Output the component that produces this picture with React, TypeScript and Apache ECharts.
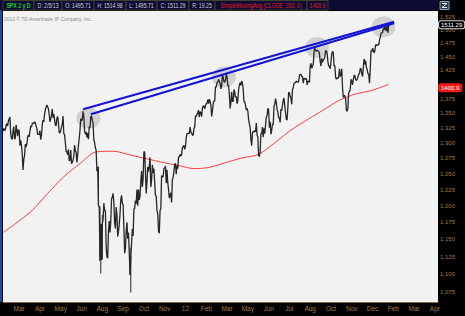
import React, { useEffect, useRef } from "react";
import * as echarts from "echarts";

// ---------- DATA ----------
const START_DATE = "2011-02-07";
const HOLIDAYS = [
  "2011-02-21", "2011-04-22", "2011-05-30", "2011-07-04", "2011-09-05", "2011-11-24", "2011-12-26",
  "2012-01-02", "2012-01-16", "2012-02-20", "2012-04-06", "2012-05-28", "2012-07-04", "2012-09-03",
  "2012-10-29", "2012-10-30", "2012-11-22", "2012-12-25",
  "2013-01-01", "2013-01-21", "2013-02-18", "2013-03-29",
];

// daily closes (trading days)
const close2011 = [
  1319, 1324, 1321, 1321, 1329, 1332, 1328, 1336, 1340, 1343, 1315, 1307, 1306, 1319, 1327,
  1306, 1308, 1330, 1321, 1311, 1322, 1320, 1295, 1304, 1296, 1281, 1256, 1273, 1279, 1298, 1293, 1298, 1309, 1313, 1310, 1319, 1328, 1326,
  1332, 1333, 1332, 1335, 1333, 1328, 1324, 1314, 1314, 1314, 1320, 1305, 1312, 1330, 1338, 1335, 1348, 1356, 1360, 1364,
  1361, 1357, 1348, 1335, 1340, 1346, 1357, 1342, 1348, 1338, 1330, 1328, 1341, 1344, 1333, 1317, 1316, 1320, 1326, 1331, 1345,
  1315, 1313, 1300, 1286, 1285, 1280, 1289, 1271, 1271, 1288, 1266, 1268, 1272, 1278, 1296, 1287, 1284, 1268, 1280, 1296, 1307, 1321,
  1340, 1337, 1339, 1353, 1344, 1319, 1314, 1318, 1309, 1316, 1306, 1327, 1325, 1344, 1345, 1337, 1332, 1305, 1300, 1292,
  1287, 1254, 1261, 1200, 1199, 1119, 1172, 1121, 1173, 1179, 1204, 1192, 1193, 1140, 1124, 1123, 1162, 1177, 1160, 1177, 1211, 1213, 1219,
  1204, 1174, 1166, 1198, 1186, 1154, 1162, 1172, 1188, 1209, 1216, 1204, 1202, 1167, 1130, 1136, 1162, 1175, 1151, 1160, 1131,
  1099, 1124, 1144, 1165, 1155, 1195, 1196, 1208, 1203, 1225, 1200, 1225, 1209, 1215, 1238, 1254, 1229, 1242, 1285, 1285, 1253,
  1219, 1237, 1261, 1253, 1262, 1276, 1229, 1240, 1264, 1251, 1258, 1237, 1216, 1215, 1193, 1188, 1162, 1159, 1193, 1196, 1247,
  1245, 1245, 1258, 1259, 1262, 1235, 1256, 1236, 1225, 1212, 1216, 1220, 1205, 1241, 1244, 1254, 1265, 1266, 1249, 1263, 1258,
];
const close2012 = [
  1277, 1277, 1281, 1278, 1281, 1292, 1293, 1296, 1289, 1294, 1308, 1315, 1315, 1316, 1315, 1326, 1318, 1316, 1313, 1312,
  1324, 1326, 1345, 1344, 1348, 1351, 1355, 1343, 1352, 1351, 1344, 1358, 1362, 1362, 1357, 1363, 1366, 1367, 1373, 1366,
  1374, 1370, 1364, 1344, 1353, 1366, 1371, 1371, 1396, 1395, 1403, 1404, 1409, 1405, 1402, 1392, 1397, 1416, 1413, 1405, 1404, 1408,
  1419, 1413, 1398, 1398, 1382, 1358, 1368, 1387, 1370, 1370, 1391, 1386, 1377, 1379, 1366, 1372, 1390, 1399, 1403, 1398,
  1406, 1402, 1391, 1369, 1370, 1363, 1355, 1358, 1353, 1339, 1331, 1325, 1305, 1295, 1316, 1319, 1318, 1320, 1318, 1333, 1313, 1310,
  1278, 1278, 1285, 1315, 1315, 1326, 1309, 1324, 1315, 1329, 1343, 1345, 1358, 1356, 1325, 1335, 1314, 1320, 1332, 1330, 1362,
  1365, 1375, 1368, 1355, 1352, 1342, 1341, 1334, 1357, 1354, 1363, 1372, 1376, 1362, 1350, 1339, 1338, 1360, 1386, 1385, 1379,
  1376, 1365, 1391, 1394, 1402, 1403, 1403, 1406, 1404, 1404, 1405, 1415, 1418, 1418, 1414, 1414, 1402, 1411, 1410, 1409, 1411, 1399, 1406,
  1405, 1404, 1433, 1438, 1429, 1433, 1436, 1460, 1466, 1462, 1460, 1462, 1461, 1460, 1456, 1441, 1433, 1447, 1440,
  1444, 1446, 1450, 1461, 1461, 1456, 1441, 1433, 1433, 1428, 1441, 1455, 1460, 1458, 1433, 1434, 1413, 1409, 1412, 1411, 1412,
  1428, 1414, 1417, 1428, 1394, 1377, 1380, 1380, 1375, 1355, 1353, 1359, 1386, 1387, 1391, 1409, 1406, 1399, 1409, 1416, 1416,
  1409, 1407, 1409, 1413, 1418, 1419, 1429, 1428, 1419, 1414, 1430, 1446, 1436, 1443, 1430, 1427, 1419, 1418, 1402, 1426,
];
const close2013 = [
  1462, 1459, 1466, 1462, 1457, 1461, 1472, 1472, 1471, 1473, 1472, 1481, 1486, 1493, 1495, 1495, 1503, 1500, 1507, 1502, 1498,
  1513, 1495, 1511.29,
];

// intraday extremes on the big-range days
const wickDates = ["2011-08-04", "2011-08-08", "2011-08-09", "2011-08-10", "2011-08-11", "2011-10-03", "2011-10-04"];
const wickLow = [1199, 1119, 1101, 1120, 1121, 1099, 1075];
const wickHigh = [1261, 1199, 1172, 1172, 1186, 1138, 1125];

// 200-day simple moving average, read at month starts
const smaDates = [
  "2011-02-07", "2011-03-01", "2011-04-01", "2011-05-02", "2011-06-01", "2011-07-01", "2011-08-01", "2011-09-01",
  "2011-10-03", "2011-11-01", "2011-12-01", "2012-01-03", "2012-02-01", "2012-03-01", "2012-04-02", "2012-05-01",
  "2012-06-01", "2012-07-02", "2012-08-01", "2012-09-04", "2012-10-01", "2012-11-01", "2012-12-03", "2013-01-02",
  "2013-02-01", "2013-02-05",
];
const smaValues = [
  1160, 1172, 1193, 1219, 1245, 1267, 1285, 1286,
  1280, 1274, 1268, 1263, 1258, 1260, 1268, 1275,
  1281, 1300, 1321, 1340, 1355, 1372, 1383, 1389,
  1399, 1400.9,
];

// trend lines (two parallel resistance lines)
const upperLineDates = ["2011-07-07", "2013-02-14"];
const upperLineValues = [1356.5, 1516];
const lowerLineDates = ["2011-07-21", "2013-02-14"];
const lowerLineValues = [1348, 1513];

// highlighted peaks
const circleDates = ["2011-07-18", "2012-03-28", "2012-09-19", "2013-01-25"];
const circleValues = [1341, 1413, 1467, 1506];

// price scale ticks (1,400 sits under the SMA badge and is not shown)
const yTicks = [1075, 1100, 1125, 1150, 1175, 1200, 1225, 1250, 1275, 1300, 1325, 1350, 1375, 1425, 1450, 1475, 1500, 1525];
const MONTH_NAMES = ["", "Feb", "Mar", "Apr", "May", "Jun", "Jul", "Aug", "Sep", "Oct", "Nov", "Dec"];

const headerTexts = ["SPX 2 y D", "D: 2/5/13", "O: 1495.71", "H: 1514.98", "L: 1495.71", "C: 1511.29", "R: 19.25", "SimpleMovingAvg (CLOSE, 200, 0)", "1400.9"];
const headerColors = ["#27d027", "#d4d4d4", "#d4d4d4", "#d4d4d4", "#d4d4d4", "#d4d4d4", "#d4d4d4", "#e52222", "#e52222"];
const copyright = "2012 \u00a9 TD Ameritrade IP Company, Inc.";
const lastClose = 1511.29;
const lastSma = 1400.9;

// ---------- LAYOUT ----------
const X_MAX = 565;
const Y_MIN = 1062;
const Y_MAX = 1536.7;
const LABEL_FIRST_BAR = 21; // time labels every 27 bars, as the platform spaces them
const LABEL_STEP_BARS = 27;
const LABEL_LAG_BARS = 5;   // label names the month of the bar a few bars to its left
const AXIS_COLOR = "#a57c42";
const FONT = "Liberation Sans";

function buildCalendar(start: string, count: number): string[] {
  const hol = new Set(HOLIDAYS);
  const out: string[] = [];
  const d = new Date(start + "T00:00:00Z");
  while (out.length < count) {
    const dow = d.getUTCDay();
    const s = d.toISOString().slice(0, 10);
    if (dow !== 0 && dow !== 6 && !hol.has(s)) out.push(s);
    d.setUTCDate(d.getUTCDate() + 1);
  }
  return out;
}

export default function App() {
  const ref = useRef<HTMLDivElement>(null);
  useEffect(() => {
    document.body.style.margin = "0";
    const chart = echarts.init(ref.current!, null, { renderer: "svg" });

    const cal = buildCalendar(START_DATE, X_MAX + 1);
    const idx: Record<string, number> = {};
    cal.forEach((d, i) => (idx[d] = i));
    const closes = [...close2011, ...close2012, ...close2013];
    const L = Math.log;

    const timeTicks: number[] = [];
    for (let t = LABEL_FIRST_BAR; t <= X_MAX - 3; t += LABEL_STEP_BARS) timeTicks.push(t);
    const timeLabel = (t: number) => {
      const d = cal[Math.round(t) - LABEL_LAG_BARS];
      if (!d) return "";
      const mi = parseInt(d.slice(5, 7), 10) - 1;
      return mi === 0 ? d.slice(2, 4) : MONTH_NAMES[mi];
    };

    const headerCells = [[3, 34], [34, 62], [62, 94], [94, 126], [126, 157], [157, 189], [189, 215], [215, 307], [307, 328]];
    const graphics: any[] = [
      { type: "rect", left: 0, top: 0, shape: { width: 438, height: 10 }, style: { fill: "#0b0b36" }, z: 0 },
      { type: "rect", left: 0, top: 10, shape: { width: 2, height: 292 }, style: { fill: "#1c4c9c" }, z: 0 },
      ...headerCells.map((c) => ({
        type: "rect", shape: { x: c[0], y: 0.5, width: c[1] - c[0], height: 9.5 },
        style: { fill: "#0b0b36", stroke: "#40402c", lineWidth: 1 }, z: 1,
      })),
      ...headerCells.map((c, i) => ({
        type: "text", x: (c[0] + c[1]) / 2, y: 5.5, scaleX: 0.8,
        style: { text: headerTexts[i], fill: headerColors[i], font: `${i === 0 ? "bold " : ""}6.5px ${FONT}`, align: "center", verticalAlign: "middle" },
        z: 2,
      })),
      { type: "text", x: 4, y: 19, scaleX: 0.9, style: { text: copyright, fill: "#8c8c8c", font: `5.5px ${FONT}`, verticalAlign: "middle" }, z: 2 },
      { type: "rect", shape: { x: 440, y: 1.5, width: 9, height: 8 }, style: { fill: "#22384a", stroke: "#93a6b8", lineWidth: 1 }, z: 2 },
      { type: "polyline", shape: { points: [[442, 3.5], [447, 3.5], [442, 7.5], [447, 7.5]] }, style: { stroke: "#e8eef4", lineWidth: 1, fill: "none" }, z: 3 },
    ];

    const markLabel = (text: string, bg: string, border: string) => ({
      silent: true,
      symbol: ["none", "none"],
      lineStyle: { width: 0, color: "rgba(0,0,0,0)", type: "solid" },
      label: {
        show: true, position: "end", formatter: text, color: "#ffffff", backgroundColor: bg,
        borderColor: border, borderWidth: 1, borderRadius: 2, padding: [1, 2, 0, 2],
        fontSize: 6, fontFamily: FONT, distance: 1, opacity: 1,
      },
      emphasis: { disabled: true },
    });

    const option: any = {
      animation: false,
      backgroundColor: "#000",
      textStyle: { fontFamily: FONT },
      grid: { left: 3, right: 27, top: 11, bottom: 14, show: true, backgroundColor: "#f2f2f2", borderWidth: 0 },
      graphic: graphics,
      xAxis: {
        type: "value", min: 0, max: X_MAX,
        splitLine: { show: false },
        axisLine: { show: true, lineStyle: { color: "#8c6a38", width: 1 } },
        axisTick: { show: false },
        axisLabel: {
          customValues: timeTicks,
          formatter: (v: number) => timeLabel(v),
          color: AXIS_COLOR, fontSize: 6.5, fontFamily: FONT, align: "center", margin: 3,
        },
      },
      yAxis: {
        type: "value", position: "right", min: L(Y_MIN), max: L(Y_MAX),
        splitLine: { show: false },
        axisLine: { show: false },
        axisTick: { show: false },
        axisLabel: {
          customValues: yTicks.map(L),
          formatter: (v: number) => Math.round(Math.exp(v)).toLocaleString("en-US"),
          color: AXIS_COLOR, fontSize: 6, fontFamily: FONT, margin: 2,
        },
      },
      series: [
        {
          type: "scatter", z: 1, silent: true,
          symbol: "circle", symbolSize: [24, 21],
          itemStyle: { color: "rgba(150,150,150,0.45)" },
          data: circleDates.map((d, i) => [idx[d], L(circleValues[i])]),
        },
        {
          type: "line", z: 2, silent: true, symbol: "none", smooth: 0.3,
          lineStyle: { color: "#ff3c3c", width: 1 },
          data: smaDates.map((d, i) => [idx[d], L(smaValues[i])]),
          markLine: { ...markLabel(String(lastSma), "#f01818", "#f01818"), data: [{ yAxis: L(lastSma) }] },
        },
        {
          type: "line", z: 3, silent: true, symbol: "none",
          lineStyle: { color: "#262626", width: 1.3 },
          data: closes.map((c, i) => [i, L(c)]),
          markLine: { ...markLabel(String(lastClose), "#000000", "#d8d8d8"), data: [{ yAxis: L(lastClose) }] },
        },
        {
          type: "custom", z: 3, silent: true,
          renderItem: (params: any, api: any) => {
            const p1 = api.coord([api.value(0), api.value(1)]);
            const p2 = api.coord([api.value(0), api.value(2)]);
            return { type: "line", shape: { x1: p1[0], y1: p1[1], x2: p2[0], y2: p2[1] }, style: { stroke: "#262626", lineWidth: 1 } };
          },
          data: wickDates.map((d, i) => [idx[d], L(wickLow[i]), L(wickHigh[i])]),
        },
        {
          type: "line", z: 4, silent: true, symbol: "none",
          lineStyle: { color: "#1212d6", width: 2 },
          data: upperLineDates.map((d, i) => [idx[d], L(upperLineValues[i])]),
        },
        {
          type: "line", z: 4, silent: true, symbol: "none",
          lineStyle: { color: "#1212d6", width: 2 },
          data: lowerLineDates.map((d, i) => [idx[d], L(lowerLineValues[i])]),
        },
      ],
    };
    chart.setOption(option);
    return () => chart.dispose();
  }, []);
  return <div ref={ref} style={{ width: 465, height: 316 }} />;
}
